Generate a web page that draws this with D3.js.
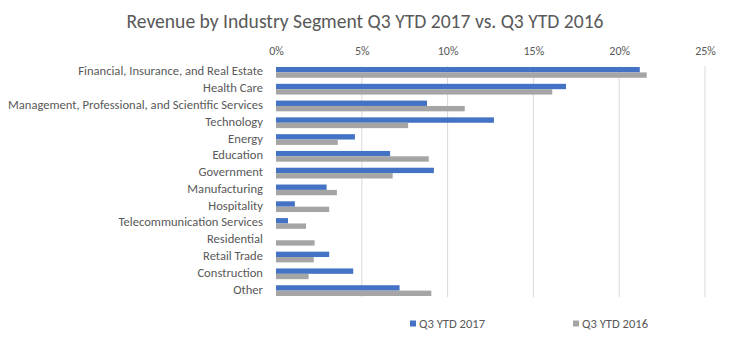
<!DOCTYPE html>
<html>
<head>
<meta charset="utf-8">
<script src="https://cdn.jsdelivr.net/npm/d3@7"></script>
<style>
  body { margin: 0; background: #fff; }
  svg text { font-family: Calibri, Carlito, Lato, sans-serif; fill: #595959; }
  .grid line { stroke: #d9d9d9; stroke-width: 1; }
</style>
</head>
<body>
<svg id="chart"></svg>
<script>
var svgWidth = 730;
var svgHeight = 343;

var categories = [
  'Financial, Insurance, and Real Estate',
  'Health Care',
  'Management, Professional, and Scientific Services',
  'Technology',
  'Energy',
  'Education',
  'Government',
  'Manufacturing',
  'Hospitality',
  'Telecommunication Services',
  'Residential',
  'Retail Trade',
  'Construction',
  'Other'
];
var seriesNames = ['Q3 YTD 2017', 'Q3 YTD 2016'];
var values2017 = [21.2, 16.9, 8.8, 12.7, 4.6, 6.65, 9.2, 2.95, 1.1, 0.7, 0, 3.1, 4.5, 7.2];
var values2016 = [21.6, 16.1, 11.0, 7.7, 3.6, 8.9, 6.8, 3.55, 3.1, 1.75, 2.25, 2.2, 1.9, 9.05];
var tickValues = [0, 5, 10, 15, 20, 25];
var colors = ['#4472c4', '#a5a5a5'];

var plot = { left: 276, right: 705, top: 64, bottom: 299 };

var svg = d3.select('#chart').attr('width', svgWidth).attr('height', svgHeight);

var xScale = d3.scaleLinear().domain([0, 25]).range([plot.left, plot.right]);
var yScale = d3.scaleBand().domain(categories).range([plot.top, plot.bottom]).paddingInner(0.36).paddingOuter(0.18);
var subScale = d3.scaleBand().domain(seriesNames).range([0, yScale.bandwidth()]);

svg.append('text')
  .text('Revenue by Industry Segment Q3 YTD 2017 vs. Q3 YTD 2016')
  .attr('x', 365).attr('y', 28)
  .attr('text-anchor', 'middle')
  .style('font-size', '19.6px');

// gridlines
svg.append('g').attr('class', 'grid')
  .selectAll('line')
  .data(tickValues.slice(1))
  .enter().append('line')
  .attr('x1', d => xScale(d)).attr('x2', d => xScale(d))
  .attr('y1', 66).attr('y2', 297);

// top axis labels
var axis = svg.append('g')
  .attr('transform', 'translate(0,' + 55 + ')')
  .call(d3.axisTop(xScale).tickValues(tickValues).tickSize(0).tickPadding(0).tickFormat(d => d + '%'));
axis.select('.domain').remove();
axis.selectAll('text').style('font-size', '12px').style('font-family', null).attr('fill', '#595959');

// category labels
svg.append('g')
  .selectAll('text')
  .data(categories)
  .enter().append('text')
  .text(d => d)
  .attr('x', 263)
  .attr('y', d => yScale(d) + yScale.bandwidth() / 2 + 3)
  .attr('text-anchor', 'end')
  .style('font-size', '12.6px');

var rows = categories.map((c, i) => ({ cat: c, vals: [values2017[i], values2016[i]] }));

var groups = svg.append('g')
  .selectAll('g')
  .data(rows)
  .enter().append('g')
  .attr('transform', d => 'translate(0,' + yScale(d.cat) + ')');

groups.selectAll('rect')
  .data(d => d.vals.map((v, j) => ({ name: seriesNames[j], v: v, j: j })))
  .enter().append('rect')
  .attr('x', xScale(0))
  .attr('y', d => subScale(d.name))
  .attr('width', d => xScale(d.v) - xScale(0))
  .attr('height', subScale.bandwidth())
  .attr('fill', d => colors[d.j]);

// legend
var legendX = [410, 573];
var legend = svg.append('g')
  .selectAll('g')
  .data(seriesNames)
  .enter().append('g')
  .attr('transform', (d, i) => 'translate(' + legendX[i] + ',324)');
legend.append('rect')
  .attr('x', 0).attr('y', -3.5).attr('width', 6).attr('height', 6)
  .attr('fill', (d, i) => colors[i]);
legend.append('text')
  .text(d => d)
  .attr('x', 9).attr('y', 4)
  .style('font-size', '12.6px');
</script>
</body>
</html>
